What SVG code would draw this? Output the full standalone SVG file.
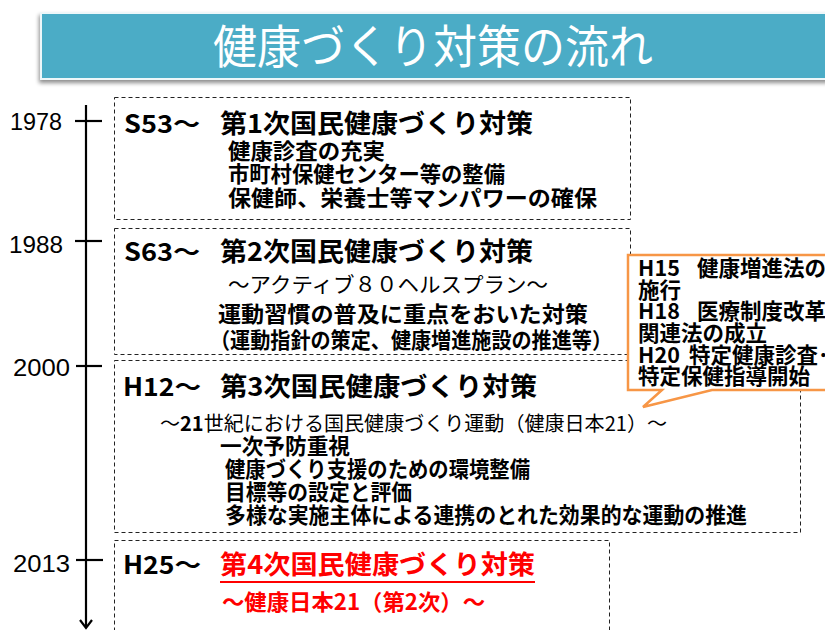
<svg xmlns="http://www.w3.org/2000/svg" width="825" height="630" viewBox="0 0 825 630">
<defs>
<style>
.jp{font-family:"Noto Sans CJK JP","Liberation Sans",sans-serif;}
.b{font-weight:700;}
.box{fill:none;stroke:#222;stroke-width:1;stroke-dasharray:4 3;}
.yr{font-family:"Liberation Sans",sans-serif;font-size:24px;fill:#000;}
.ax{stroke:#000;stroke-width:2.2;fill:none;}
.co{font-size:21.5px;}
</style>
<filter id="sh" x="-5%" y="-20%" width="110%" height="150%">
<feGaussianBlur in="SourceAlpha" stdDeviation="2"/>
<feOffset dx="-1" dy="3"/>
<feComponentTransfer><feFuncA type="linear" slope="0.45"/></feComponentTransfer>
<feMerge><feMergeNode/><feMergeNode in="SourceGraphic"/></feMerge>
</filter>
</defs>
<rect width="825" height="630" fill="#fff"/>

<g id="title">
<rect x="41" y="13" width="790" height="66" fill="#4BACC6" stroke="#EEF7F9" stroke-width="2" filter="url(#sh)"/>
<text x="213" y="63" class="jp" font-size="46" fill="#fff" textLength="440" lengthAdjust="spacingAndGlyphs">健康づくり対策の流れ</text>
</g>

<g id="timeline">
<line class="ax" x1="86" y1="105" x2="86" y2="627"/>
<polyline class="ax" points="80,620 86,628 92,620"/>
<line class="ax" x1="75" y1="121" x2="102" y2="121"/>
<line class="ax" x1="75" y1="241" x2="102" y2="241"/>
<line class="ax" x1="76" y1="366" x2="102" y2="366" stroke-width="3"/>
<line class="ax" x1="76" y1="560" x2="103" y2="560"/>
<text class="yr" x="10" y="130" textLength="52" lengthAdjust="spacingAndGlyphs">1978</text>
<text class="yr" x="9" y="253" textLength="54" lengthAdjust="spacingAndGlyphs">1988</text>
<text class="yr" x="13" y="376" textLength="57" lengthAdjust="spacingAndGlyphs">2000</text>
<text class="yr" x="13" y="572" textLength="57" lengthAdjust="spacingAndGlyphs">2013</text>
</g>

<g id="s53">
<rect class="box" x="114.5" y="97.5" width="516" height="122"/>
<text class="jp b" x="124" y="133" font-size="25" textLength="76" lengthAdjust="spacingAndGlyphs">S53～</text>
<text class="jp b" x="220" y="133" font-size="26" textLength="313" lengthAdjust="spacingAndGlyphs">第1次国民健康づくり対策</text>
<text class="jp b" x="228" y="159" font-size="22" textLength="157" lengthAdjust="spacingAndGlyphs">健康診査の充実</text>
<text class="jp b" x="228" y="182" font-size="22" textLength="277" lengthAdjust="spacingAndGlyphs">市町村保健センター等の整備</text>
<text class="jp b" x="228" y="206" font-size="22" textLength="369" lengthAdjust="spacingAndGlyphs">保健師、栄養士等マンパワーの確保</text>
</g>

<g id="s63">
<rect class="box" x="114.5" y="228.5" width="516" height="126"/>
<text class="jp b" x="124" y="261" font-size="25" textLength="76" lengthAdjust="spacingAndGlyphs">S63～</text>
<text class="jp b" x="220" y="261" font-size="26" textLength="313" lengthAdjust="spacingAndGlyphs">第2次国民健康づくり対策</text>
<text class="jp" x="228" y="292" font-size="21" textLength="320" lengthAdjust="spacingAndGlyphs">～アクティブ８０ヘルスプラン～</text>
<text class="jp b" x="218" y="322" font-size="22" textLength="370" lengthAdjust="spacingAndGlyphs">運動習慣の普及に重点をおいた対策</text>
<text class="jp b" x="210" y="348" font-size="22" textLength="402" lengthAdjust="spacingAndGlyphs">（運動指針の策定、健康増進施設の推進等）</text>
</g>

<g id="h12">
<rect class="box" x="114.5" y="360.5" width="686" height="172"/>
<text class="jp b" x="123" y="396" font-size="25" textLength="78" lengthAdjust="spacingAndGlyphs">H12～</text>
<text class="jp b" x="220" y="396" font-size="26" textLength="317" lengthAdjust="spacingAndGlyphs">第3次国民健康づくり対策</text>
<text class="jp" x="160" y="431" font-size="20" textLength="507" lengthAdjust="spacingAndGlyphs">～<tspan class="b">21</tspan>世紀における国民健康づくり運動（健康日本21）～</text>
<text class="jp b" x="220" y="454" font-size="22" textLength="130" lengthAdjust="spacingAndGlyphs">一次予防重視</text>
<text class="jp b" x="225" y="477" font-size="22" textLength="305" lengthAdjust="spacingAndGlyphs">健康づくり支援のための環境整備</text>
<text class="jp b" x="225" y="500" font-size="22" textLength="187" lengthAdjust="spacingAndGlyphs">目標等の設定と評価</text>
<text class="jp b" x="225" y="523" font-size="22" textLength="522" lengthAdjust="spacingAndGlyphs">多様な実施主体による連携のとれた効果的な運動の推進</text>
</g>

<g id="h25">
<rect class="box" x="114.5" y="540.5" width="495" height="100"/>
<text class="jp b" x="123" y="574" font-size="25" textLength="78" lengthAdjust="spacingAndGlyphs">H25～</text>
<text class="jp b" x="220" y="574" font-size="26" fill="#FF0000" textLength="315" lengthAdjust="spacingAndGlyphs">第4次国民健康づくり対策</text>
<line x1="220" y1="582" x2="535" y2="582" stroke="#FF0000" stroke-width="2"/>
<text class="jp b" x="222" y="610" font-size="22" fill="#FF0000" textLength="263" lengthAdjust="spacingAndGlyphs">～健康日本21（第2次）～</text>
</g>

<g id="callout">
<path d="M628,255 L830,255 L830,390 L712,390 L643,407 L662,390 L628,390 Z" fill="#fff" stroke="#F79646" stroke-width="2.5"/>
<text class="jp b co" y="276"><tspan x="638" textLength="42" lengthAdjust="spacing">H15</tspan><tspan x="697">健康増進法の</tspan></text>
<text class="jp b co" x="638" y="298">施行</text>
<text class="jp b co" y="319"><tspan x="638" textLength="42" lengthAdjust="spacing">H18</tspan><tspan x="697">医療制度改革</tspan></text>
<text class="jp b co" x="638" y="341">関連法の成立</text>
<text class="jp b co" y="363"><tspan x="638" textLength="42" lengthAdjust="spacing">H20</tspan><tspan x="689">特定健康診査･</tspan></text>
<text class="jp b co" x="638" y="384">特定保健指導開始</text>
</g>
</svg>
